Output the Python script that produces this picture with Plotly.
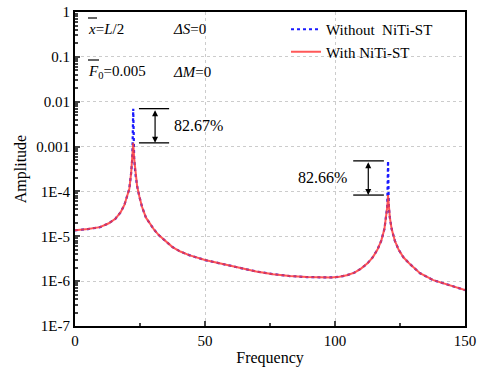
import math
import plotly.graph_objects as go

# ---- data ----
freq = [0, 5, 9.6, 13, 15.5, 17.5, 19, 20, 20.9, 21.6, 22.05, 22.4, 22.75, 23.2, 23.9,
        24.8, 25.8, 27.3, 29.1, 30.5, 32.3, 35, 37.5, 40.5, 43.9, 50, 56.8, 63.3, 69.7,
        76.2, 82.6, 89.1, 95.5, 98.5, 101.7, 104.5, 107.5, 110, 112.5, 114.5, 116.3,
        117.8, 119.0, 119.7, 120.1, 120.4, 120.7, 121.1, 121.8, 123.0, 124.5, 126.3,
        128.5, 132.7, 137.8, 144.2, 150]
amp_with = [1.36e-5, 1.45e-5, 1.6e-5, 1.95e-5, 2.45e-5, 3.4e-5, 5e-5, 7.5e-5, 1.15e-4,
            2.6e-4, 5.5e-4, 1.21e-3, 5.5e-4, 2.6e-4, 1.3e-4, 7.5e-5, 4.5e-5, 2.6e-5,
            1.78e-5, 1.38e-5, 1.05e-5, 7.6e-6, 5.75e-6, 4.57e-6, 3.8e-6, 2.95e-6, 2.4e-6,
            1.95e-6, 1.64e-6, 1.43e-6, 1.3e-6, 1.23e-6, 1.2e-6, 1.21e-6, 1.25e-6, 1.35e-6,
            1.55e-6, 1.9e-6, 2.5e-6, 3.4e-6, 5e-6, 8e-6, 1.45e-5, 2.6e-5, 4.5e-5, 8.3e-5,
            4.5e-5, 2.6e-5, 1.45e-5, 8e-6, 5e-6, 3.4e-6, 2.5e-6, 1.5e-6, 1.05e-6, 8.1e-7,
            6.3e-7]
amp_without = list(amp_with)
peak1_idx = freq.index(22.4)
peak2_idx = freq.index(120.4)
amp_without[peak1_idx] = 7.0e-3
amp_without[peak2_idx] = 4.8e-4

reduction_labels = ["82.67%", "82.66%"]
x_ticks = [0, 50, 100, 150]
y_tickvals = [1, 0.1, 0.01, 0.001, 1e-4, 1e-5, 1e-6, 1e-7]
y_ticktext = ["1", "0.1", "0.01", "0.001", "1E-4", "1E-5", "1E-6", "1E-7"]

FONT = "Times New Roman, Liberation Serif, serif"

# page geometry (body margin removed by post_script)
PX0, PX1, PY0, PY1 = 75, 465, 12, 326
W, H = 479, 373
ML, MT = PX0, PY0
MR, MB = W - PX1, H - PY1
pw, ph = PX1 - PX0, PY1 - PY0


def px2paper(px, py):
    return (px - PX0) / pw, 1 - (py - PY0) / ph


fig = go.Figure()
fig.add_trace(go.Scatter(x=freq, y=amp_without, mode="lines", name="Without  NiTi-ST",
                         line=dict(color="#1a1aff", width=2.2, dash="dot"), legendrank=1))
fig.add_trace(go.Scatter(x=freq, y=amp_with, mode="lines", name="With NiTi-ST",
                         line=dict(color="#ff3b3b", width=2), opacity=0.85, legendrank=2))

shapes = []
annotations = []


def marker(pk, x_line0, x_line1, x_arrow, text_x, anchor, label):
    top = amp_without[pk]
    bot = amp_with[pk]
    for yv in (top, bot):
        shapes.append(dict(type="line", xref="x", yref="y", x0=x_line0, x1=x_line1,
                           y0=yv, y1=yv, line=dict(color="black", width=1.3)))
    annotations.append(dict(x=x_arrow, y=math.log10(bot), ax=x_arrow, ay=math.log10(top),
                            xref="x", yref="y", axref="x", ayref="y", text="",
                            showarrow=True, arrowhead=2, startarrowhead=2,
                            arrowside="end+start", arrowsize=1, arrowwidth=1.2,
                            arrowcolor="black", standoff=0, startstandoff=0))
    annotations.append(dict(x=text_x, y=(math.log10(top) + math.log10(bot)) / 2,
                            xref="x", yref="y", text=label, showarrow=False,
                            xanchor=anchor, yanchor="middle",
                            font=dict(family=FONT, size=16, color="black")))


marker(peak1_idx, 24.6, 36.2, 30.8, 37.2, "left", reduction_labels[0])
marker(peak2_idx, 107.0, 118.8, 112.8, 105.4, "right", reduction_labels[1])

tf = dict(family=FONT, size=15, color="black")
labels = [
    (86, 29, "<i>x</i>=<i>L</i>/2"),
    (171, 29, "<i>ΔS</i>=0"),
    (86, 72, "<i>F</i><sub>0</sub>=0.005"),
    (171, 72, "<i>ΔM</i>=0"),
]
for px, py, t in labels:
    ax_, ay_ = px2paper(px, py)
    annotations.append(dict(x=ax_, y=ay_, xref="paper", yref="paper", text=t,
                            showarrow=False, xanchor="left", yanchor="middle", font=tf))
for (px0, px1, py) in [(88, 97, 18), (88, 99, 60)]:
    x0, y0 = px2paper(px0, py)
    x1, _ = px2paper(px1, py)
    shapes.append(dict(type="line", xref="paper", yref="paper", x0=x0, x1=x1,
                       y0=y0, y1=y0, line=dict(color="black", width=1.2)))

lx, ly = px2paper(286, 13)
fig.update_layout(
    width=W, height=H, margin=dict(l=ML, r=MR, t=MT, b=MB, autoexpand=False),
    paper_bgcolor="white", plot_bgcolor="white",
    font=dict(family=FONT, size=14, color="black"),
    shapes=shapes, annotations=annotations,
    showlegend=True,
    legend=dict(x=lx, y=ly, xanchor="left", yanchor="top",
                bgcolor="rgba(0,0,0,0)", font=dict(family=FONT, size=15),
                tracegroupgap=0),
)
fig.update_xaxes(
    range=[0, 150], tickvals=x_ticks, ticks="inside", ticklen=5, tickwidth=2,
    showline=True, linewidth=2, linecolor="black", mirror=True, automargin=False,
    showgrid=True, gridcolor="#cccccc", griddash="dot", gridwidth=1, zeroline=False,
    minor=dict(ticks="inside", ticklen=3, tickwidth=2, dtick=25, showgrid=False),
    title=dict(text="Frequency", font=dict(family=FONT, size=16), standoff=4),
    tickfont=dict(family=FONT, size=15), ticklabeloverflow="allow",
)
fig.update_yaxes(
    type="log", range=[-7, 0], tickvals=y_tickvals, ticktext=y_ticktext,
    ticks="inside", ticklen=5, tickwidth=2, automargin=False,
    showline=True, linewidth=2, linecolor="black", mirror=True,
    showgrid=True, gridcolor="#cccccc", griddash="dot", gridwidth=1, zeroline=False,
    minor=dict(ticks="inside", ticklen=3, tickwidth=1.5, dtick="D1", showgrid=False),
    title=dict(text="Amplitude", font=dict(family=FONT, size=16), standoff=6),
    tickfont=dict(family=FONT, size=15), ticklabeloverflow="allow",
)

fig.write_html(
    "out.html",
    config={"displayModeBar": False},
    post_script="document.body.style.margin='0';document.body.style.overflow='hidden';",
)
